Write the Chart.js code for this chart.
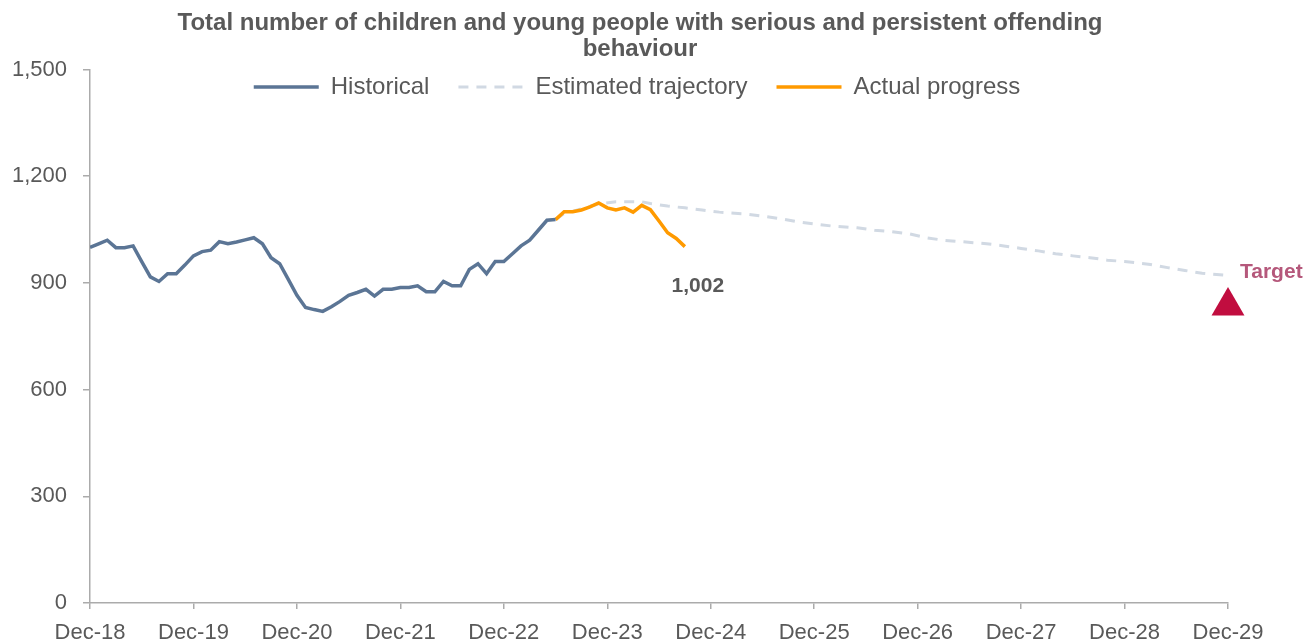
<!DOCTYPE html>
<html>
<head>
<meta charset="utf-8">
<script src="https://cdn.jsdelivr.net/npm/chart.js@4.4.1/dist/chart.umd.min.js"></script>
<style>
  html, body { margin: 0; padding: 0; background: #fff; }
</style>
</head>
<body>
<canvas id="chart" width="1309" height="643"></canvas>
<script>
// x axis: months counted from Dec-18 (0) to Dec-29 (132)
const xTickLabels = ['Dec-18', 'Dec-19', 'Dec-20', 'Dec-21', 'Dec-22', 'Dec-23',
                     'Dec-24', 'Dec-25', 'Dec-26', 'Dec-27', 'Dec-28', 'Dec-29'];
const yTicks = [0, 300, 600, 900, 1200, 1500];

// Historical, monthly from Dec-18
const histStart = 0;
const histValues = [1000, 1010, 1020, 999, 999, 1004, 960, 917, 904, 926, 926, 950,
                    976, 988, 992, 1016, 1010, 1015, 1021, 1027, 1010, 971, 954, 910,
                    865, 831, 825, 820, 833, 848, 865, 873, 882, 863, 882, 882,
                    887, 887, 892, 875, 875, 904, 892, 892, 938, 954, 926, 960,
                    960, 982, 1004, 1020, 1048, 1076, 1078];

// Actual progress, monthly from Jun-23
const actualStart = 54;
const actualValues = [1078, 1100, 1100, 1105, 1114, 1125, 1111, 1105, 1111, 1099,
                      1118, 1106, 1074, 1041, 1025, 1002];

// Estimated trajectory
const trajMonths = [54, 55, 57, 59, 61, 64, 65, 67, 69, 71, 73, 76, 78, 80, 82, 84, 86,
                    89, 91, 93, 95, 97, 99, 101, 104, 106, 108, 110, 112, 114, 116,
                    118, 120, 123, 125, 127, 129, 132];
const trajValues = [1078, 1095, 1108, 1122, 1128, 1128, 1123, 1116, 1111, 1105, 1099,
                    1094, 1088, 1081, 1072, 1066, 1060, 1055, 1048, 1044, 1038, 1027,
                    1020, 1016, 1010, 1004, 997, 990, 982, 976, 971, 964, 960, 952,
                    943, 935, 927, 921];

const targetMonth = 132;
const targetValue = 835;

const TEXT = '#595959';
const AXIS = '#ABABAB';
const FONT = '"Liberation Sans", Arial, sans-serif';

function fmt(v) {
  return String(v).replace(/\B(?=(\d{3})+(?!\d))/g, ',');
}

const histData = histValues.map((v, i) => ({ x: histStart + i, y: v }));
const actualData = actualValues.map((v, i) => ({ x: actualStart + i, y: v }));
const trajData = trajMonths.map((m, i) => ({ x: m, y: trajValues[i] }));

// title centred a bit left of the canvas, legend overlaps the top of the plot
const headerPlace = {
  id: 'headerPlace',
  afterLayout(chart) {
    const tb = chart.titleBlock;
    tb.left = 640 - 600;
    tb.right = 640 + 600;
    const lg = chart.legend;
    lg.left = 637 - 600;
    lg.right = 637 + 600;
    lg.top = 46;
    lg.bottom = 46 + 80;
  }
};

const pointLabels = {
  id: 'pointLabels',
  afterDatasetsDraw(chart) {
    const { ctx, scales: { x, y } } = chart;
    const lastM = actualStart + actualValues.length - 1;
    const lastV = actualValues[actualValues.length - 1];
    ctx.save();
    ctx.font = 'bold 21px ' + FONT;
    ctx.textBaseline = 'middle';
    ctx.textAlign = 'center';
    ctx.fillStyle = TEXT;
    ctx.fillText(fmt(lastV), x.getPixelForValue(lastM) + 13, y.getPixelForValue(lastV) + 40);
    ctx.textAlign = 'left';
    ctx.fillStyle = '#B5587B';
    ctx.fillText('Target', x.getPixelForValue(targetMonth) + 12, y.getPixelForValue(targetValue) - 34);
    ctx.restore();
  }
};

new Chart(document.getElementById('chart'), {
  type: 'line',
  data: {
    datasets: [
      {
        label: 'Historical',
        data: histData,
        borderColor: '#5B7595',
        borderWidth: 3.5,
        pointRadius: 0,
        order: 1
      },
      {
        label: 'Estimated trajectory',
        data: trajData,
        borderColor: '#D1D9E3',
        borderWidth: 3,
        borderDash: [10, 8],
        pointRadius: 0,
        order: 2
      },
      {
        label: 'Actual progress',
        data: actualData,
        borderColor: '#FF9A00',
        borderWidth: 3.5,
        pointRadius: 0,
        order: 1
      },
      {
        label: 'Target',
        data: [{ x: targetMonth, y: targetValue }],
        showLine: false,
        pointStyle: 'triangle',
        pointRadius: 19,
        pointHoverRadius: 19,
        backgroundColor: '#C10D3F',
        borderColor: '#C10D3F',
        borderWidth: 0,
        clip: false,
        order: 0
      }
    ]
  },
  options: {
    responsive: false,
    animation: false,
    layout: { padding: { left: 0, right: 81, top: 0, bottom: 0 } },
    plugins: {
      title: {
        display: true,
        text: ['Total number of children and young people with serious and persistent offending', 'behaviour'],
        color: TEXT,
        font: { family: FONT, size: 24, weight: 'bold', lineHeight: '26px' },
        padding: { top: 10, bottom: 6.5 }
      },
      legend: {
        position: 'top',
        align: 'center',
        maxHeight: 1,
        labels: {
          usePointStyle: true,
          pointStyle: 'line',
          pointStyleWidth: 65,
          padding: 29,
          color: TEXT,
          font: { family: FONT, size: 24 },
          filter: (item) => item.datasetIndex !== 3,
          sort: (a, b) => a.datasetIndex - b.datasetIndex,
          generateLabels(chart) {
            const items = Chart.defaults.plugins.legend.labels.generateLabels(chart);
            items.forEach(it => {
              const ds = chart.data.datasets[it.datasetIndex];
              it.lineDash = ds.borderDash || [];
              it.lineWidth = ds.borderWidth;
              it.strokeStyle = ds.borderColor;
            });
            return items;
          }
        }
      },
      tooltip: { enabled: false }
    },
    scales: {
      x: {
        type: 'linear',
        min: 0,
        max: 132,
        afterFit: (s) => { s.height = 40; },
        ticks: {
          stepSize: 12,
          autoSkip: false,
          maxRotation: 0,
          padding: 11,
          color: TEXT,
          font: { family: FONT, size: 22 },
          callback: (v) => xTickLabels[v / 12]
        },
        grid: { drawOnChartArea: false, drawTicks: true, tickLength: 6, color: AXIS, lineWidth: 1.5 },
        border: { display: true, color: AXIS, width: 1.5 }
      },
      y: {
        min: 0,
        max: 1500,
        afterFit: (s) => { s.width = 90; },
        afterBuildTicks: (s) => { s.ticks = yTicks.map(v => ({ value: v })); },
        ticks: {
          padding: 16,
          color: TEXT,
          font: { family: FONT, size: 22 },
          callback: (v) => fmt(v)
        },
        grid: { drawOnChartArea: false, drawTicks: true, tickLength: 7, color: AXIS, lineWidth: 1.5 },
        border: { display: true, color: AXIS, width: 1.5 }
      }
    }
  },
  plugins: [headerPlace, pointLabels]
});
</script>
</body>
</html>
